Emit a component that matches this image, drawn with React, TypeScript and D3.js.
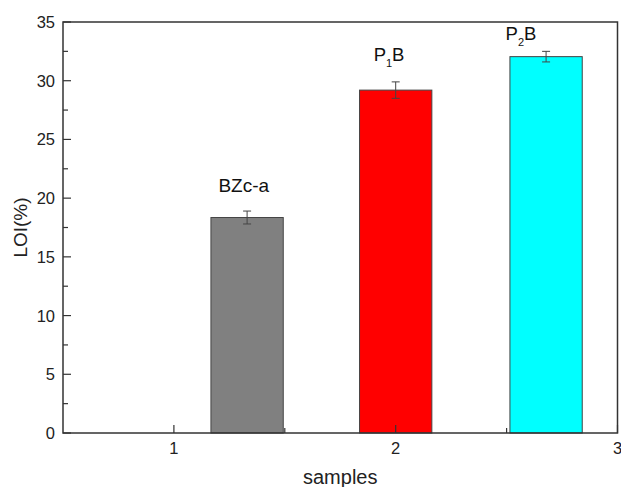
import React from "react";
import * as d3 from "d3";

const sampleLabels = ["BZc-a", "P1B", "P2B"];
const barPositions = [1.33, 2.0, 2.678];
const loiValues = [18.35, 29.2, 32.05];
const loiErrors = [0.55, 0.7, 0.45];
const barColors = ["#808080", "#ff0000", "#00ffff"];
const labelX = [1.315, 1.97, 2.565];
const labelY = [20.5, 31.7, 33.45];
const yMajorTicks = [0, 5, 10, 15, 20, 25, 30, 35];
const yMinorTicks = [2.5, 7.5, 12.5, 17.5, 22.5, 27.5, 32.5];
const xMajorTicks = [1, 2, 3];
const xMinorTicks = [1.5, 2.5];

const W = 621;
const H = 487;
const left = 63;
const right = 617.5;
const top = 22;
const bottom = 433;
const barWidth = 0.326;
const FONT = "'Liberation Sans', Arial, sans-serif";
const AX = "#333";

function Label({ text, x, y }: { text: string; x: number; y: number }) {
  const m = text.match(/^P(\d)B$/);
  if (m) {
    return (
      <text x={x} y={y} textAnchor="middle" fontSize={18.5} fill="#111" fontFamily={FONT}>
        <tspan>P</tspan>
        <tspan fontSize={11} dy={6}>{m[1]}</tspan>
        <tspan dy={-6}>B</tspan>
      </text>
    );
  }
  return (
    <text x={x} y={y} textAnchor="middle" fontSize={19} fill="#111" fontFamily={FONT}>
      {text}
    </text>
  );
}

export default function App() {
  const x = d3.scaleLinear().domain([0.5, 3]).range([left, right]);
  const y = d3.scaleLinear().domain([0, 35]).range([bottom, top]);
  const bw = x(barWidth) - x(0);

  return (
    <svg
      width={W}
      height={H}
      style={{ position: "absolute", left: 0, top: 0, background: "#fff" }}
    >
      <rect x={0} y={0} width={W} height={H} fill="#fff" />
      {loiValues.map((v, i) => (
        <rect
          key={"b" + i}
          x={x(barPositions[i]) - bw / 2}
          y={y(v)}
          width={bw}
          height={y(0) - y(v)}
          fill={barColors[i]}
          stroke="#444"
          strokeWidth={1}
        />
      ))}
      {loiValues.map((v, i) => {
        const cx = x(barPositions[i]);
        const y1 = y(v + loiErrors[i]);
        const y2 = y(v - loiErrors[i]);
        return (
          <g key={"e" + i} stroke="#444" strokeWidth={1}>
            <line x1={cx} x2={cx} y1={y1} y2={y2} />
            <line x1={cx - 4} x2={cx + 4} y1={y1} y2={y1} />
            <line x1={cx - 4} x2={cx + 4} y1={y2} y2={y2} />
          </g>
        );
      })}
      <rect
        x={left}
        y={top}
        width={right - left}
        height={bottom - top}
        fill="none"
        stroke={AX}
        strokeWidth={1.5}
      />
      {yMajorTicks.map((t) => (
        <g key={"ym" + t}>
          <line x1={left} x2={left + 8} y1={y(t)} y2={y(t)} stroke={AX} strokeWidth={1.2} />
          <text
            x={55}
            y={y(t)}
            dy="0.36em"
            textAnchor="end"
            fontSize={16.5}
            fill="#222"
            fontFamily={FONT}
          >
            {t}
          </text>
        </g>
      ))}
      {yMinorTicks.map((t) => (
        <line key={"yn" + t} x1={left} x2={left + 5} y1={y(t)} y2={y(t)} stroke={AX} strokeWidth={1.2} />
      ))}
      {xMajorTicks.map((t) => (
        <g key={"xm" + t}>
          <line x1={x(t)} x2={x(t)} y1={bottom} y2={bottom - 8} stroke={AX} strokeWidth={1.2} />
          <text
            x={x(t)}
            y={454}
            textAnchor="middle"
            fontSize={16.5}
            fill="#222"
            fontFamily={FONT}
          >
            {t}
          </text>
        </g>
      ))}
      {xMinorTicks.map((t) => (
        <line key={"xn" + t} x1={x(t)} x2={x(t)} y1={bottom} y2={bottom - 5} stroke={AX} strokeWidth={1.2} />
      ))}
      <text
        x={(left + right) / 2}
        y={484}
        textAnchor="middle"
        fontSize={20}
        fill="#222"
        fontFamily={FONT}
      >
        samples
      </text>
      <text
        transform={`translate(27,${(top + bottom) / 2}) rotate(-90)`}
        textAnchor="middle"
        fontSize={19}
        fill="#222"
        fontFamily={FONT}
      >
        LOI(%)
      </text>
      {sampleLabels.map((s, i) => (
        <Label key={"l" + i} text={s} x={x(labelX[i])} y={y(labelY[i])} />
      ))}
    </svg>
  );
}
